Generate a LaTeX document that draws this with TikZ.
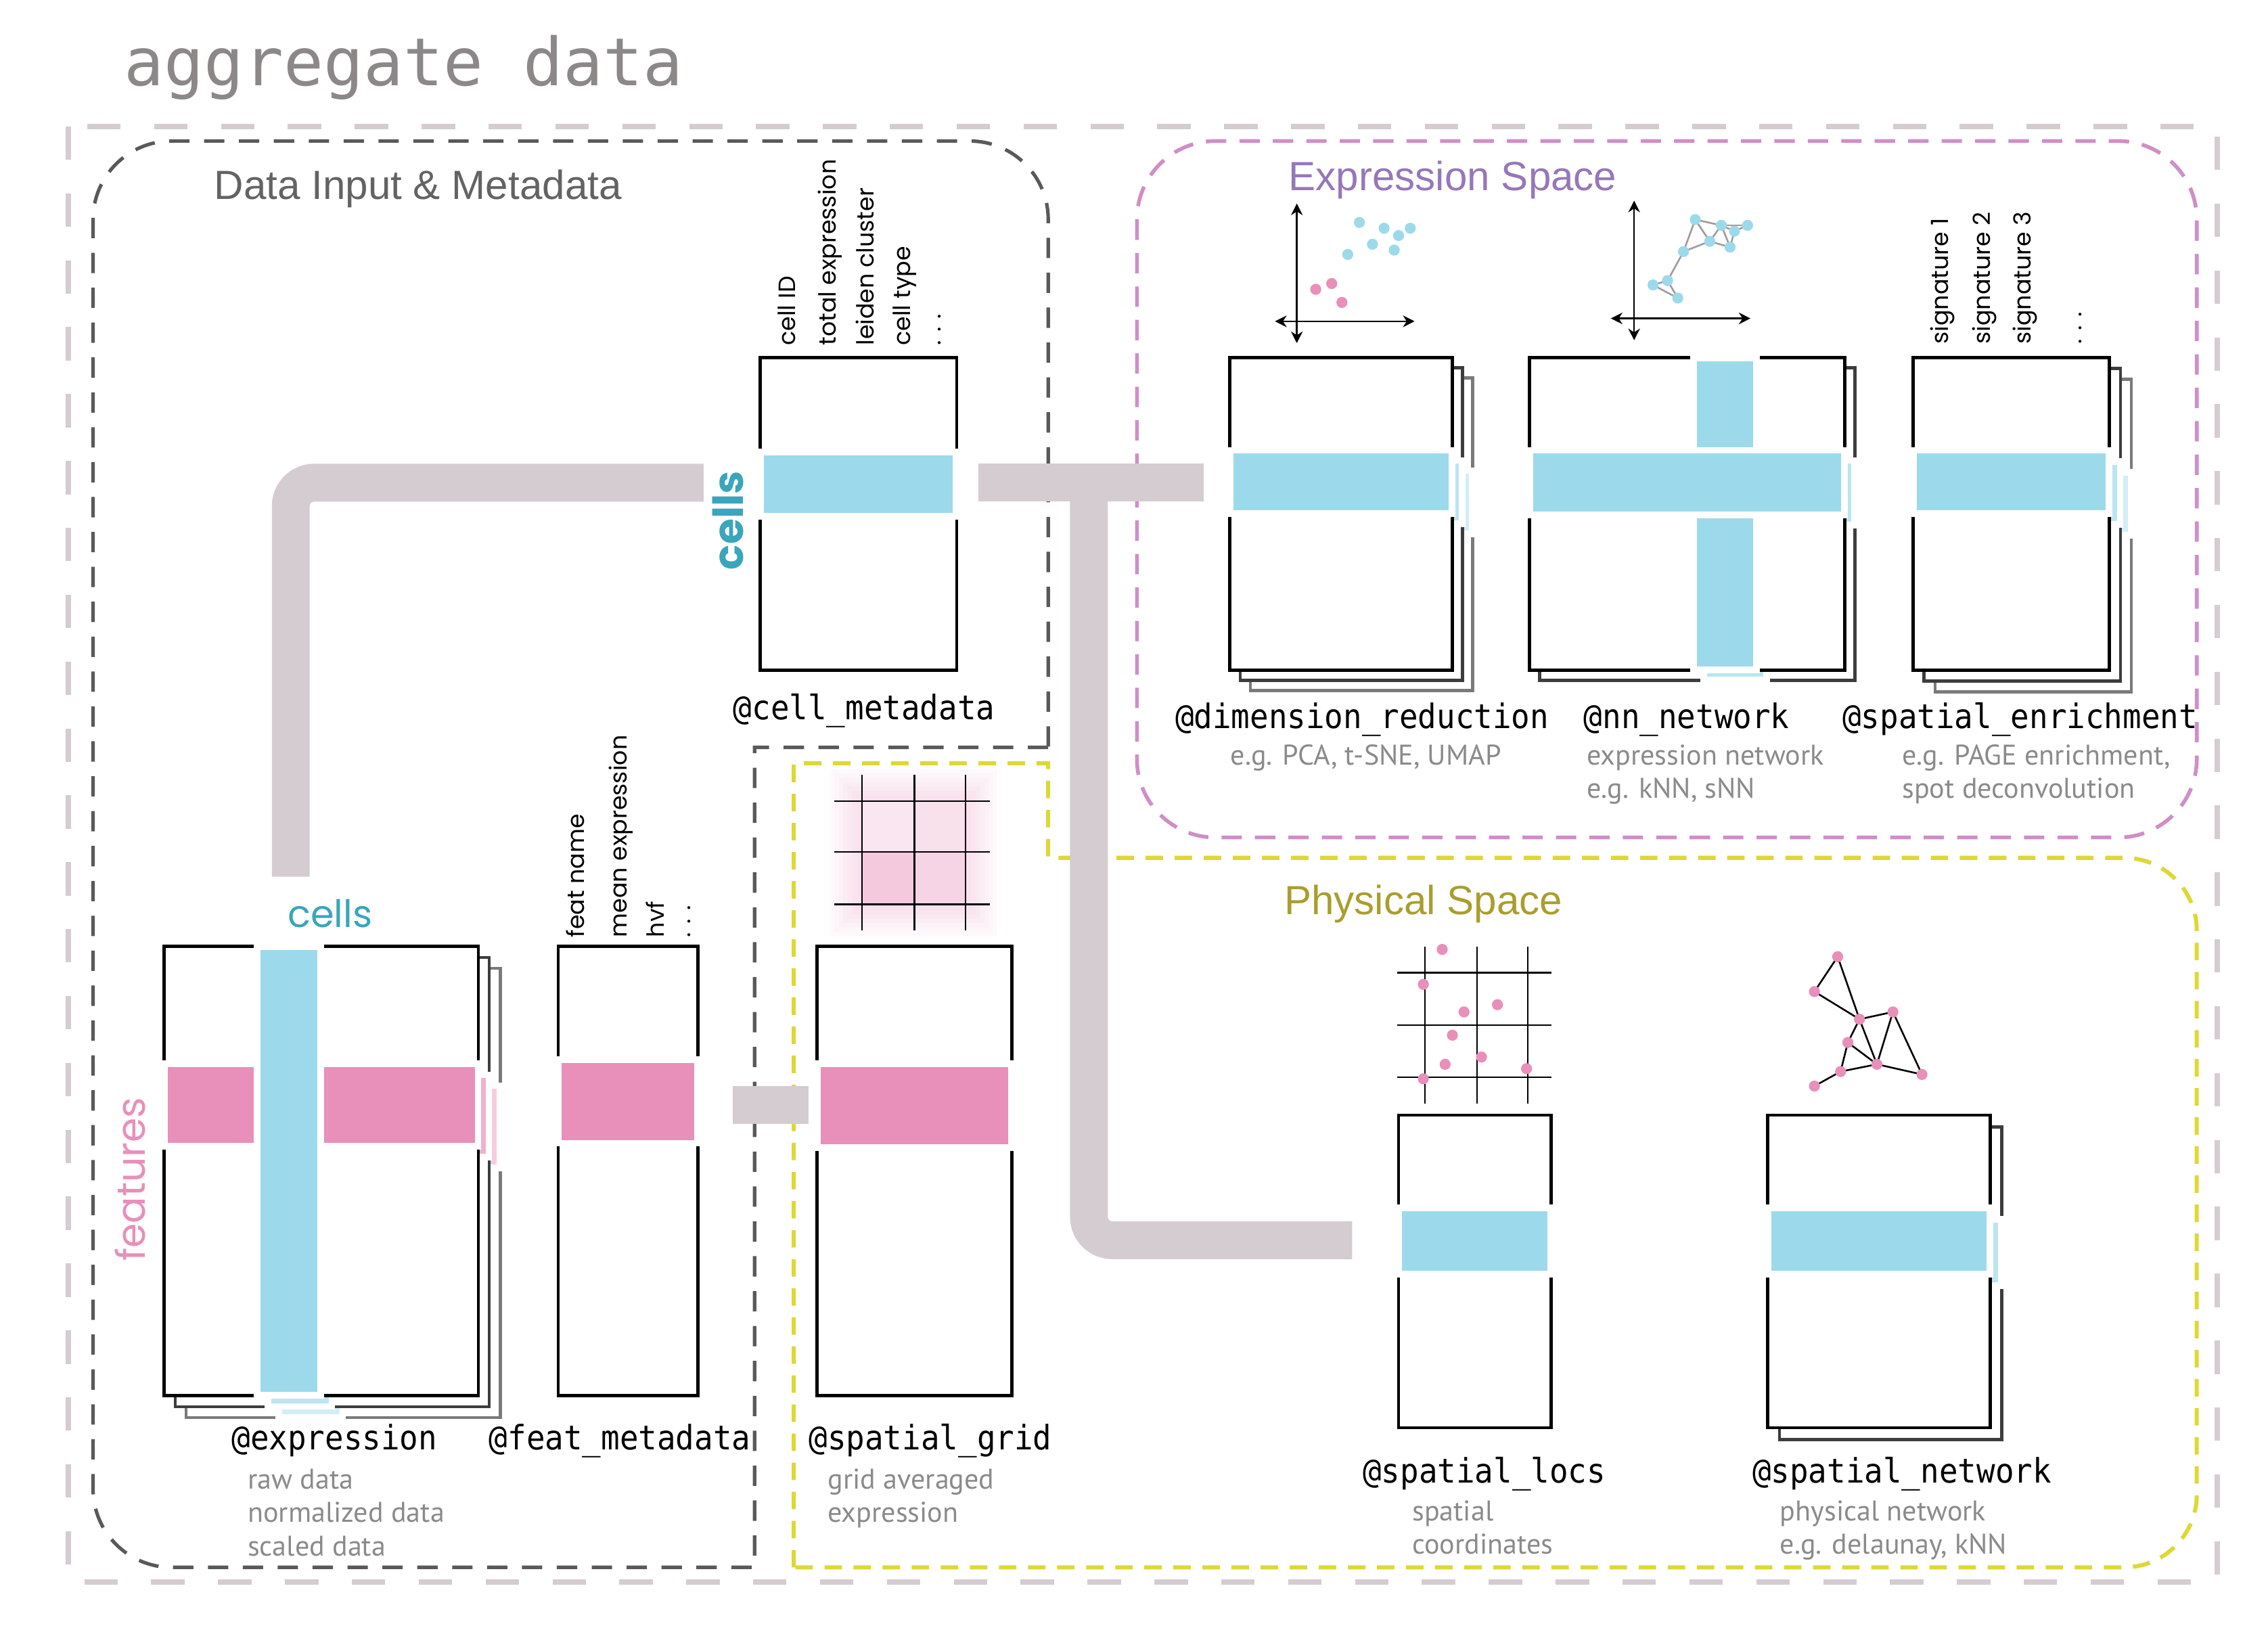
\documentclass[tikz,border=0pt]{standalone}
\usepackage{fontspec}
\setmainfont{PT Sans}
\newfontfamily\monofont{DejaVu Sans Mono}
\newfontfamily\slotfont[FakeStretch=0.92]{DejaVu Sans Mono}
\newfontfamily\geofont{Poppins}
\newfontfamily\headfont{Liberation Sans}
\usetikzlibrary{arrows.meta}

\definecolor{bandblue}{HTML}{9CDAEB}
\definecolor{bandpink}{HTML}{E88FBA}
\definecolor{pipegray}{HTML}{D5CCD1}
\definecolor{titlegray}{HTML}{8C8888}
\definecolor{boxgray}{HTML}{595959}
\definecolor{headgray}{HTML}{636363}
\definecolor{subgray}{HTML}{8A8A8A}
\definecolor{exprpurple}{HTML}{9677B9}
\definecolor{exprpink}{HTML}{CF8EC7}
\definecolor{physolive}{HTML}{A99E2E}
\definecolor{physyellow}{HTML}{DDD835}
\definecolor{cellteal}{HTML}{3AA5BC}
\definecolor{shadowdark}{HTML}{3D3D3D}
\definecolor{shadowmid}{HTML}{7A7A7A}
\definecolor{netgray}{HTML}{A09A9C}

\tikzset{
  outerdash/.style={draw=pipegray, line width=2pt, dash pattern=on 11.5pt off 11.5pt},
  datadash/.style={draw=boxgray, line width=1.2pt, dash pattern=on 7pt off 5pt},
  exprdash/.style={draw=exprpink, line width=1.3pt, dash pattern=on 7pt off 4.5pt},
  physdash/.style={draw=physyellow, line width=1.4pt, dash pattern=on 6pt off 4pt},
  pipe/.style={draw=pipegray, line width=13pt},
  matframe/.style={draw=#1, line width=1.1pt, fill=white},
  band/.style={fill=#1, preaction={draw=white, line width=4.5pt}},
  slotname/.style={font=\slotfont\fontsize{11.6}{13}\selectfont, anchor=base west, inner sep=0pt},
  subnote/.style={font=\fontsize{9.8}{11}\selectfont, text=subgray, anchor=base west, inner sep=0pt},
  colname/.style={font=\geofont\fontsize{8.1}{10}\selectfont, rotate=90, anchor=base west, inner sep=0pt},
  areatitle/.style={font=\headfont\fontsize{14}{17}\selectfont, anchor=base west, inner sep=0pt},
  axisline/.style={line width=0.6pt, {Stealth[length=4pt,width=4pt]}-{Stealth[length=4pt,width=4pt]}},
  gridline/.style={line width=0.5pt},
}

\begin{document}
\begin{tikzpicture}[x=0.5pt,y=-0.5pt]
    \useasboundingbox (0,0) rectangle (1560,1118);

    \node[font=\monofont\fontsize{22.8}{26}\selectfont, text=titlegray, anchor=base west, inner sep=0pt] (title) at (85,59) {aggregate data};

    % Areas
    \draw[outerdash] (47,87) rectangle (1525,1088);
    \draw[datadash] (721,514) -- (519,514) -- (519,1078) [rounded corners=27pt] -- (64,1078) -- (64,97) -- (721,97) [sharp corners] -- cycle;
    \draw[exprdash, rounded corners=27pt] (782,97) rectangle (1511,576);
    \draw[physdash] (546,1078) -- (546,525) -- (721,525) -- (721,590) [rounded corners=25pt] -- (1511,590) -- (1511,1078) [sharp corners] -- cycle;

    \node[areatitle, text=headgray] (datatitle) at (147,137) {Data Input \& Metadata};
    \node[areatitle, text=exprpurple] (exprtitle) at (886,131) {Expression Space};
    \node[areatitle, text=physolive] (phystitle) at (883,629) {Physical Space};

    % Pipes
    \coordinate (exprpipe) at (200,603);
    \coordinate (cellpipeW) at (484,332);
    \coordinate (cellpipeE) at (673,332);
    \coordinate (dimpipe) at (828,332);
    \coordinate (junction) at (749,332);
    \coordinate (locpipe) at (930,853);
    \coordinate (featpipe) at (504,760);
    \coordinate (gridpipe) at (556,760);
    \draw[pipe, rounded corners=8pt] (exprpipe) |- (cellpipeW);
    \draw[pipe] (cellpipeE) -- (dimpipe);
    \draw[pipe, rounded corners=8pt] (junction) |- (locpipe);
    \draw[pipe] (featpipe) -- (gridpipe);

    % @expression
    \foreach \sh/\lc/\tint in {15/shadowmid/45,7.5/shadowdark/70,0/black/100}{
        \begin{scope}[shift={(\sh,\sh)}]
            \path[matframe=\lc] (113,651) rectangle (329,960);
            \path[band=bandpink!\tint!white] (115.5,734) rectangle (326.5,786);
            \path[band=bandblue!\tint!white] (179,653.5) rectangle (218.5,957.5);
        \end{scope}
    }
    % @feat_metadata
    \path[matframe=black] (384,651) rectangle (480,960);
    \path[band=bandpink] (386.5,731) rectangle (477.5,784);
    % @spatial_grid
    \path[matframe=black] (562,651) rectangle (696,960);
    \path[band=bandpink] (564.5,734) rectangle (693.5,787);
    % @cell_metadata
    \path[matframe=black] (523,246) rectangle (658,461);
    \path[band=bandblue] (525.5,313) rectangle (655.5,353);
    % @dimension_reduction
    \foreach \sh/\lc/\tint in {14/shadowmid/45,7/shadowdark/70,0/black/100}{
        \begin{scope}[shift={(\sh,\sh)}]
            \path[matframe=\lc] (846,246) rectangle (999,461);
            \path[band=bandblue!\tint!white] (848.5,312) rectangle (996.5,351);
        \end{scope}
    }
    % @nn_network
    \foreach \sh/\lc/\tint in {7/shadowdark/70,0/black/100}{
        \begin{scope}[shift={(\sh,\sh)}]
            \path[matframe=\lc] (1052,246) rectangle (1269,461);
            \path[band=bandblue!\tint!white] (1167,248.5) rectangle (1206,458.5);
            \path[band=bandblue!\tint!white] (1054.5,312) rectangle (1266.5,352);
        \end{scope}
    }
    % @spatial_enrichment
    \foreach \sh/\lc/\tint in {15/shadowmid/45,7.5/shadowdark/70,0/black/100}{
        \begin{scope}[shift={(\sh,\sh)}]
            \path[matframe=\lc] (1316,246) rectangle (1451,461);
            \path[band=bandblue!\tint!white] (1318.5,312) rectangle (1448.5,351);
        \end{scope}
    }
    % @spatial_locs
    \path[matframe=black] (962,767) rectangle (1067,982);
    \path[band=bandblue] (964.5,833) rectangle (1064.5,874);
    % @spatial_network
    \foreach \sh/\lc/\tint in {8/shadowdark/70,0/black/100}{
        \begin{scope}[shift={(\sh,\sh)}]
            \path[matframe=\lc] (1216,767) rectangle (1369,982);
            \path[band=bandblue!\tint!white] (1218.5,833) rectangle (1366.5,874);
        \end{scope}
    }

    % Axis words
    \node[font=\geofont\fontsize{13}{15}\selectfont, text=cellteal, anchor=base, inner sep=0pt] (cellsaxis) at (227,638) {cells};
    \node[font=\geofont\bfseries\fontsize{14.3}{16}\selectfont, text=cellteal, rotate=90, anchor=base, inner sep=0pt] (cellsmeta) at (511,358) {cells};
    \node[font=\geofont\fontsize{13.6}{15}\selectfont, text=bandpink, rotate=90, anchor=base, inner sep=0pt] (feataxis) at (100,811) {features};

    % Column names
    \foreach \txt/\bx [count=\i] in {cell ID/547, total expression/575, leiden cluster/601, cell type/626, . . ./647}
        \node[colname] (cellcol\i) at (\bx,238) {\txt};
    \foreach \txt/\bx [count=\i] in {feat name/402, mean expression/431, hvf/457, . . ./475}
        \node[colname] (featcol\i) at (\bx,645) {\txt};
    \foreach \txt/\bx [count=\i] in {signature 1/1340, signature 2/1369, signature 3/1397, . . ./1432}
        \node[colname] (sigcol\i) at (\bx,237) {\txt};

    % Slot names
    \node[slotname] (cellmetaname) at (504,495) {@cell\_metadata};
    \node[slotname] (dimname) at (808,501) {@dimension\_reduction};
    \node[slotname] (nnname) at (1089,501) {@nn\_network};
    \node[slotname] (enrichname) at (1267,501) {@spatial\_enrichment};
    \node[slotname] (exprname) at (159,997) {@expression};
    \node[slotname] (featname) at (336,997) {@feat\_metadata};
    \node[slotname] (gridname) at (556,997) {@spatial\_grid};
    \node[slotname] (locsname) at (937,1020) {@spatial\_locs};
    \node[slotname] (netname) at (1205,1020) {@spatial\_network};

    % Notes
    \node[subnote] (dimnote) at (846,526) {e.g. PCA, t-SNE, UMAP};
    \foreach \txt [count=\i] in {expression network, {e.g. kNN, sNN}}
        \node[subnote] (nnnote\i) at (1091,{503+23*\i}) {\txt};
    \foreach \txt [count=\i] in {{e.g. PAGE enrichment,}, spot deconvolution}
        \node[subnote] (enrichnote\i) at (1308,{503+23*\i}) {\txt};
    \foreach \txt [count=\i] in {raw data, normalized data, scaled data}
        \node[subnote] (exprnote\i) at (170,{1001+23*\i}) {\txt};
    \foreach \txt [count=\i] in {grid averaged, expression}
        \node[subnote] (gridnote\i) at (569,{1001+23*\i}) {\txt};
    \foreach \txt [count=\i] in {spatial, coordinates}
        \node[subnote] (locsnote\i) at (971,{1023+23*\i}) {\txt};
    \foreach \txt [count=\i] in {physical network, {e.g. delaunay, kNN}}
        \node[subnote] (netnote\i) at (1224,{1023+23*\i}) {\txt};

    % Scatter icon
    \draw[axisline] (892,140) -- (892,236);
    \draw[axisline] (877,221) -- (973,221);
    \foreach \px/\py in {935/153,952/157,962/162,970/157,944/168,959/172,927/175}
        \fill[bandblue] (\px,\py) circle[radius=1.9pt];
    \foreach \px/\py in {905/199,916/195,923/208}
        \fill[bandpink] (\px,\py) circle[radius=1.9pt];

    % Expression network icon
    \draw[axisline] (1124,138) -- (1124,234);
    \draw[axisline] (1108,219) -- (1204,219);
    \coordinate (ea) at (1166,151); \coordinate (eb) at (1184,155);
    \coordinate (ec) at (1202,155); \coordinate (ed) at (1193,159);
    \coordinate (ee) at (1176,166); \coordinate (ef) at (1190,170);
    \coordinate (eg) at (1158,173); \coordinate (eh) at (1147,193);
    \coordinate (ei) at (1137,196); \coordinate (ej) at (1154,205);
    \foreach \a/\b in {ea/eb,ea/ee,ea/eg,eb/ec,eb/ed,eb/ee,eb/ef,ec/ed,ed/ef,ee/ef,ee/eg,eg/eh,eh/ei,ei/ej,eh/ej}
        \draw[netgray, line width=0.6pt] (\a) -- (\b);
    \foreach \p in {ea,eb,ec,ed,ee,ef,eg,eh,ei,ej}
        \fill[bandblue] (\p) circle[radius=1.9pt];

    % Spatial grid icon
    \foreach \r in {22,19,...,1}
        \fill[bandpink, opacity=0.045] ({593-\r},{551-\r}) rectangle ({664+\r},{622+\r});
    \fill[bandpink!22!white] (593,551) rectangle (629,586);
    \fill[bandpink!27!white] (629,551) rectangle (664,586);
    \fill[bandpink!48!white] (593,586) rectangle (629,622);
    \fill[bandpink!38!white] (629,586) rectangle (664,622);
    \foreach \gx in {593,629,664} \draw[gridline] (\gx,533) -- (\gx,640);
    \foreach \gy in {551,586,622} \draw[gridline] (574,\gy) -- (681,\gy);

    % Spatial locations icon
    \foreach \gx in {980,1016,1051} \draw[gridline] (\gx,651) -- (\gx,759);
    \foreach \gy in {669,705,741} \draw[gridline] (961,\gy) -- (1067,\gy);
    \foreach \px/\py in {992/653,979/677,1007/696,1030/691,999/712,1019/727,994/732,1050/735,979/742}
        \fill[bandpink] (\px,\py) circle[radius=1.9pt];

    % Physical network icon
    \coordinate (pa) at (1264,658); \coordinate (pb) at (1248,682);
    \coordinate (pc) at (1279,701); \coordinate (pd) at (1302,696);
    \coordinate (pe) at (1271,717); \coordinate (pf) at (1291,732);
    \coordinate (pg) at (1266,737); \coordinate (ph) at (1248,747);
    \coordinate (pi) at (1322,739);
    \foreach \a/\b in {pa/pb,pa/pc,pb/pc,pc/pd,pc/pe,pc/pf,pd/pf,pd/pi,pe/pf,pe/pg,pg/pf,pf/pi,pg/ph}
        \draw[line width=0.6pt] (\a) -- (\b);
    \foreach \p in {pa,pb,pc,pd,pe,pf,pg,ph,pi}
        \fill[bandpink] (\p) circle[radius=1.9pt];
\end{tikzpicture}
\end{document}
